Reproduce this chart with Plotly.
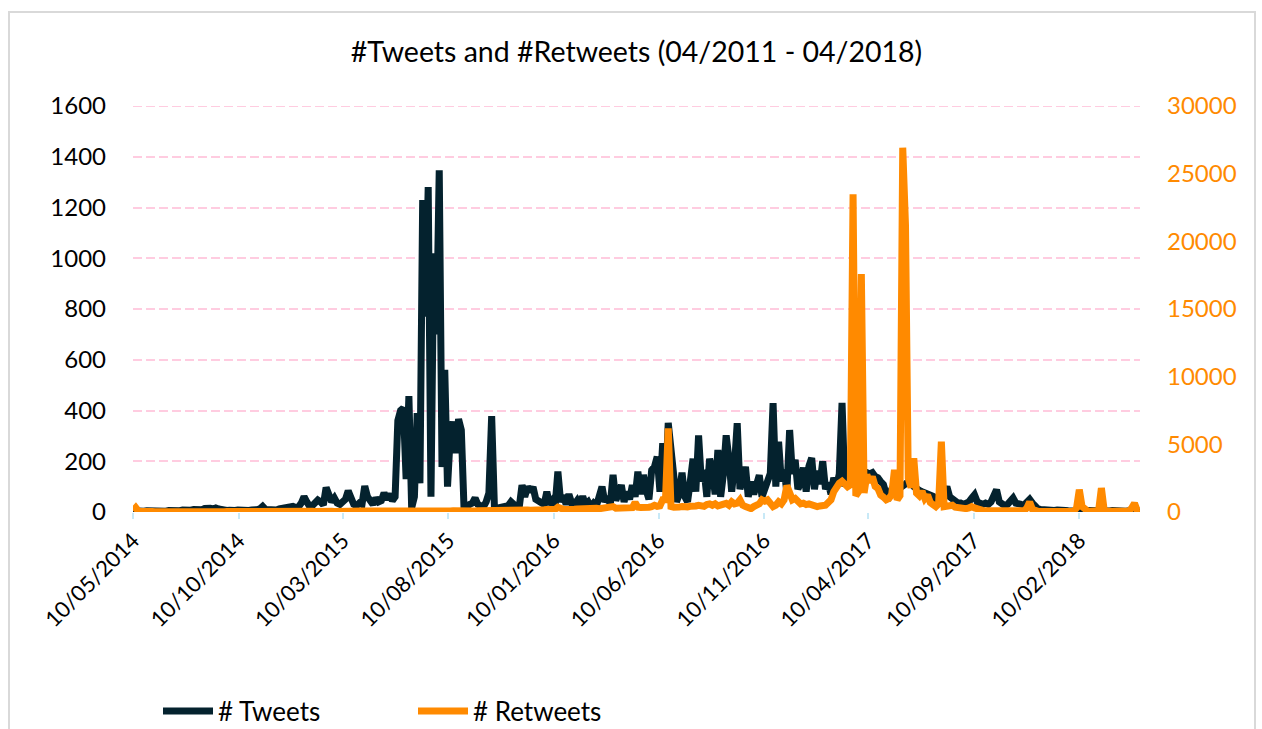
import pandas as pd
import plotly.graph_objects as go

# Daily activity sampled every 4 days, starting 10 May 2014
start_date = "2014-05-10"
sample_step = "4D"

# Number of tweets per sample (left axis)
tweets_2014 = [
    5, 3, 4, 2, 3, 5, 4, 3, 4, 6,
    4, 5, 3, 6, 5, 4, 7, 5, 8, 6,
    9, 7, 10, 8, 12, 9, 14, 16, 15, 12,
    16, 12, 9, 8, 6, 7, 5, 6, 8, 6,
    5, 7, 6, 8, 7, 9, 12, 22, 10, 8,
    7, 9, 8, 12, 15, 18, 20, 25, 22, 18,
]
tweets_2015 = [
    20, 35, 60, 40, 22, 25, 35, 47, 40, 28,
    96, 60, 40, 55, 35, 30, 42, 50, 83, 60,
    30, 24, 35, 30, 102, 60, 40, 30, 55, 40,
    45, 75, 50, 71, 45, 60, 360, 400, 410, 130,
    457, 16, 60, 390, 113, 1229, 770, 1281, 60, 1020,
    700, 1347, 177, 560, 100, 300, 356, 232, 366, 323,
    10, 25, 30, 35, 55, 30, 25, 20, 40, 75,
    378, 20, 15, 18, 22, 28, 25, 40, 28, 20,
    20, 106, 60, 100, 80, 98, 50, 42, 35, 30,
]
tweets_2016 = [
    80, 30, 45, 25, 159, 40, 65, 30, 70, 35,
    30, 45, 25, 62, 30, 40, 20, 35, 25, 60,
    100, 40, 60, 30, 146, 45, 80, 106, 40, 80,
    50, 106, 60, 159, 70, 146, 86, 50, 165, 178,
    218, 80, 271, 90, 351, 231, 138, 40, 70, 155,
    60, 40, 120, 210, 80, 302, 120, 165, 60, 210,
    165, 70, 244, 60, 150, 302, 210, 80, 180, 350,
    90, 140, 178, 60, 120, 70, 110, 145, 60, 86,
    120, 152, 429, 100, 277, 120, 165, 80, 323, 150,
]
tweets_2017 = [
    206, 90, 115, 175, 80, 180, 213, 90, 162, 110,
    200, 90, 115, 70, 135, 100, 150, 430, 100, 150,
    150, 145, 140, 150, 130, 145, 155, 150, 155, 140,
    135, 120, 108, 70, 62, 90, 100, 110, 95, 100,
    110, 120, 120, 100, 90, 85, 80, 75, 70, 65,
    62, 45, 40, 50, 80, 100, 60, 50, 40, 35,
    35, 30, 35, 40, 55, 68, 40, 35, 30, 35,
    30, 40, 70, 88, 40, 30, 25, 30, 40, 55,
    35, 30, 30, 28, 35, 50, 35, 20, 12, 10,
]
tweets_2018 = [
    8, 6, 7, 5, 6, 8, 5, 4, 6, 5,
    4, 6, 5, 3, 5, 4, 6, 5, 4, 3,
    5, 4, 3, 5, 4, 6, 4, 3, 5, 4,
    3, 5, 4, 6, 4, 3,
]

# Number of retweets per sample (right axis)
retweets_2014 = [
    100, 320, 60, 30, 20, 25, 20, 30, 25, 20,
    20, 25, 30, 20, 25, 30, 20, 25, 30, 25,
    30, 25, 20, 30, 35, 25, 30, 20, 25, 30,
    25, 30, 20, 25, 30, 35, 25, 20, 30, 25,
    30, 25, 35, 30, 25, 30, 40, 35, 30, 25,
    30, 35, 40, 30, 45, 40, 35, 50, 40, 45,
]
retweets_2015 = [
    50, 40, 60, 45, 50, 55, 40, 60, 50, 45,
    60, 50, 55, 45, 60, 50, 55, 65, 50, 60,
    55, 60, 50, 65, 70, 55, 60, 50, 65, 60,
    70, 60, 65, 75, 60, 70, 80, 65, 70, 60,
    75, 70, 65, 80, 70, 90, 75, 85, 70, 80,
    90, 80, 75, 85, 70, 80, 90, 75, 85, 80,
    70, 90, 80, 85, 75, 90, 100, 80, 95, 90,
    100, 90, 110, 95, 100, 120, 110, 130, 105, 120,
    130, 120, 140, 150, 130, 160, 140, 170, 150, 160,
]
retweets_2016 = [
    180, 160, 200, 190, 350, 220, 200, 180, 230, 210,
    200, 230, 250, 220, 260, 240, 230, 250, 270, 240,
    260, 280, 250, 300, 400, 280, 300, 270, 320, 300,
    290, 320, 700, 350, 330, 300, 380, 350, 400, 500,
    420, 450, 900, 900, 6185, 400, 350, 300, 370, 400,
    350, 380, 420, 400, 450, 500, 480, 420, 550, 600,
    500, 600, 450, 520, 600, 640, 500, 750, 600, 650,
    900, 500, 400, 300, 250, 400, 500, 600, 900, 800,
    900, 600, 400, 500, 750, 600, 900, 1950, 1400, 900,
]
retweets_2017 = [
    1000, 700, 600, 650, 550, 600, 500, 450, 400, 450,
    450, 500, 700, 900, 1500, 1900, 2120, 2270, 2000, 1870,
    2000, 23480, 1200, 1500, 17590, 1400, 2760, 2200, 2600, 1900,
    1750, 1250, 1100, 900, 1000, 1300, 3120, 900, 1200, 26920,
    21200, 2500, 1800, 3970, 1400, 1200, 1530, 1000, 1250, 700,
    550, 400, 600, 5200, 400, 450, 500, 500, 350, 300,
    300, 300, 250, 300, 400, 300, 200, 150, 120, 100,
    100, 90, 80, 80, 70, 60, 60, 80, 100, 80,
    60, 50, 60, 100, 300, 750, 200, 80, 50, 40,
]
retweets_2018 = [
    50, 40, 50, 40, 50, 40, 50, 40, 50, 40,
    50, 60, 300, 1650, 400, 200, 80, 60, 50, 60,
    100, 1770, 150, 50, 40, 40, 40, 50, 40, 40,
    40, 50, 300, 650, 100, 50,
]

tick_dates = [
    "2014-05-10", "2014-10-10", "2015-03-10", "2015-08-10", "2016-01-10",
    "2016-06-10", "2016-11-10", "2017-04-10", "2017-09-10", "2018-02-10",
]
tweet_ticks = list(range(0, 1601, 200))
retweet_ticks = list(range(0, 30001, 5000))

tweets = tweets_2014 + tweets_2015 + tweets_2016 + tweets_2017 + tweets_2018
retweets = retweets_2014 + retweets_2015 + retweets_2016 + retweets_2017 + retweets_2018
tweet_dates = pd.date_range(start_date, periods=len(tweets), freq=sample_step)
retweet_dates = pd.date_range(start_date, periods=len(retweets), freq=sample_step)
x_end = max(tweet_dates[-1], retweet_dates[-1])

NAVY = "#04222E"
ORANGE = "#FF8A00"
GRID = "#FFCCE0"
GRID_DASH = "9px,4px"
FONT = "Lato"

W, H = 1262, 729
L, R, T, B = 133, 1140, 106, 512   # plot area in pixels


def px_x(px):
    return (px - L) / (R - L)


def px_y(py):
    return (B - py) / (B - T)


fig = go.Figure()
fig.add_trace(go.Scatter(
    x=tweet_dates, y=tweets, name="# Tweets", mode="lines",
    line=dict(color=NAVY, width=7), yaxis="y",
))
fig.add_trace(go.Scatter(
    x=retweet_dates, y=retweets, name="# Retweets", mode="lines",
    line=dict(color=ORANGE, width=7), yaxis="y2",
))

fig.update_layout(
    width=W, height=H,
    margin=dict(l=L, r=W - R, t=T, b=H - B, pad=0, autoexpand=False),
    paper_bgcolor="white", plot_bgcolor="white",
    font=dict(family=FONT, color="#000000"),
    title=dict(
        text="#Tweets and #Retweets (04/2011 - 04/2018)",
        x=0.5, xref="paper", xanchor="center",
        y=1 - 52 / H, yref="container", yanchor="middle",
        font=dict(family=FONT, size=28.5, color="#000000"),
    ),
    xaxis=dict(
        type="date", range=[tick_dates[0], x_end],
        tickvals=tick_dates, tickformat="%d/%m/%Y", tickangle=-45,
        tickfont=dict(size=22, color="#000000"),
        ticks="outside", ticklen=6, tickwidth=2, tickcolor="#C8E9F7",
        showgrid=False, showline=False, zeroline=False,
    ),
    yaxis=dict(
        range=[0, tweet_ticks[-1]], tickvals=tweet_ticks,
        tickfont=dict(size=24, color="#000000"),
        showgrid=True, gridcolor=GRID, gridwidth=2, griddash=GRID_DASH,
        zeroline=False, showline=False, ticks="", ticklabelstandoff=26,
    ),
    yaxis2=dict(
        range=[0, retweet_ticks[-1]], tickvals=retweet_ticks,
        tickformat="d", overlaying="y", side="right",
        tickfont=dict(size=24, color=ORANGE),
        showgrid=False, zeroline=False, showline=False, ticks="",
        ticklabelstandoff=26,
    ),
    legend=dict(
        orientation="h", x=px_x(158), xanchor="left",
        y=px_y(711), yanchor="middle",
        font=dict(size=26, color="#000000"),
        itemwidth=50, entrywidth=190, entrywidthmode="pixels",
        bgcolor="rgba(0,0,0,0)", traceorder="normal",
    ),
    showlegend=True,
    shapes=[
        # chart frame
        dict(
            type="rect", xref="paper", yref="paper",
            x0=px_x(9), x1=px_x(1255), y0=px_y(740), y1=px_y(12),
            line=dict(color="#D9D9D9", width=2), fillcolor="rgba(0,0,0,0)",
            layer="below",
        ),
        # gridline on the top edge of the plot area
        dict(
            type="line", xref="paper", yref="y",
            x0=0, x1=1, y0=tweet_ticks[-1], y1=tweet_ticks[-1],
            line=dict(color=GRID, width=2, dash=GRID_DASH), layer="below",
        ),
    ],
)

fig.write_html("out.html")
